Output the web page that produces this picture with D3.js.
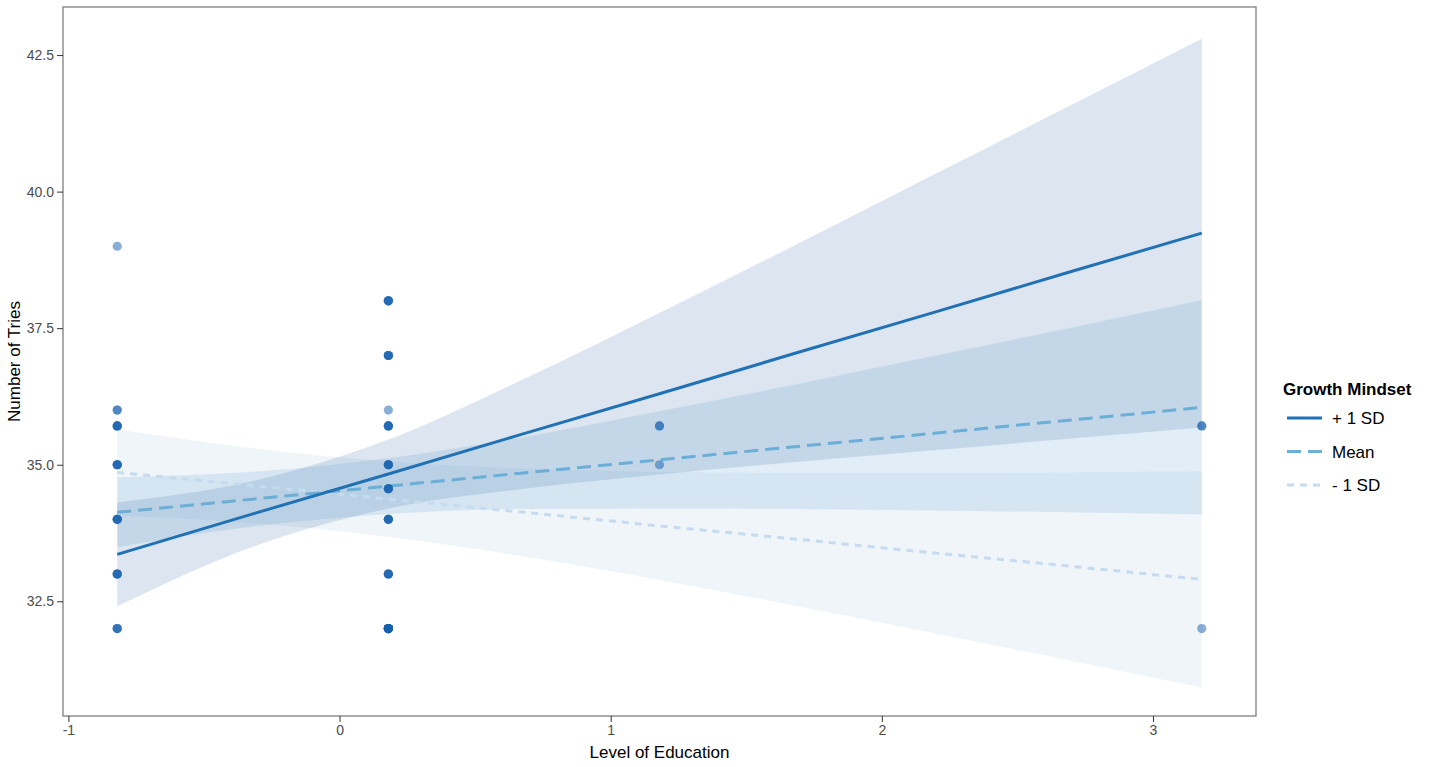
<!DOCTYPE html>
<html>
<head>
<meta charset="utf-8">
<script src="https://cdn.jsdelivr.net/npm/d3@7"></script>
<style>
  html, body { margin: 0; padding: 0; background: #fff; }
  svg { display: block; font-family: "Liberation Sans", Arial, sans-serif; }
</style>
</head>
<body>
<div id="chart"></div>
<script>
const gridX = [-0.82, -0.32, 0.18, 0.68, 1.18, 1.68, 2.18, 2.68, 3.18];

const groups = ['+ 1 SD', 'Mean', '- 1 SD'];

const fitPlus  = [33.36, 34.10, 34.83, 35.57, 36.30, 37.04, 37.77, 38.51, 39.24];
const lowPlus  = [32.41, 33.50, 34.20, 34.56, 34.82, 35.05, 35.26, 35.47, 35.68];
const highPlus = [34.31, 34.70, 35.46, 36.57, 37.78, 39.02, 40.28, 41.54, 42.80];

const fitMean  = [34.13, 34.37, 34.61, 34.85, 35.09, 35.33, 35.57, 35.81, 36.05];
const lowMean  = [33.49, 33.87, 34.10, 34.19, 34.20, 34.19, 34.16, 34.13, 34.09];
const highMean = [34.77, 34.87, 35.12, 35.51, 35.98, 36.47, 36.98, 37.49, 38.01];

const fitMinus  = [34.86, 34.62, 34.37, 34.13, 33.88, 33.64, 33.39, 33.15, 32.90];
const lowMinus  = [34.07, 33.93, 33.68, 33.32, 32.89, 32.42, 31.93, 31.43, 30.92];
const highMinus = [35.65, 35.30, 35.06, 34.93, 34.87, 34.85, 34.85, 34.86, 34.88];

// observations (education, tries); repeated rows overplot
const obsX = [
  -0.82, -0.82, -0.82, -0.82, -0.82, -0.82, -0.82, -0.82, -0.82, -0.82, -0.82, -0.82, -0.82, -0.82, -0.82, -0.82, -0.82, -0.82, -0.82, -0.82, -0.82, -0.82,
  0.18, 0.18, 0.18, 0.18, 0.18, 0.18, 0.18, 0.18, 0.18, 0.18, 0.18, 0.18, 0.18, 0.18, 0.18, 0.18, 0.18, 0.18, 0.18, 0.18, 0.18, 0.18, 0.18, 0.18, 0.18, 0.18, 0.18, 0.18, 0.18, 0.18, 0.18, 0.18, 0.18, 0.18, 0.18, 0.18, 0.18, 0.18, 0.18,
  1.18, 1.18, 1.18,
  3.18, 3.18, 3.18
];
const obsY = [
  39, 36, 36, 35.71, 35.71, 35.71, 35.71, 35, 35, 35, 35, 34, 34, 34, 34, 33, 33, 33, 33, 32, 32, 32,
  38, 38, 38, 38, 37, 37, 37, 37, 36, 35.71, 35.71, 35.71, 35.71, 35, 35, 35, 35, 34.56, 34.56, 34.56, 34.56,
  34, 34, 34, 34, 33, 33, 33, 33, 32, 32, 32, 32, 32, 32, 32, 32, 32, 32,
  35.71, 35.71, 35,
  35.71, 35.71, 32
];

const xTicks = [-1, 0, 1, 2, 3];
const yTicks = [32.5, 35.0, 37.5, 40.0, 42.5];

const width = 1430, height = 767;
const margin = {top: 7, right: 174, bottom: 51, left: 63};

const x = d3.scaleLinear()
  .domain([-1.02, 3.38])
  .range([margin.left, width - margin.right]);

const y = d3.scaleLinear()
  .domain([30.4, 43.38])
  .range([height - margin.bottom, margin.top]);

const colors = {'+ 1 SD': '#2171b5', 'Mean': '#6baed6', '- 1 SD': '#c6dbef'};
const fills  = {'+ 1 SD': '#507db4', 'Mean': '#6eaad7', '- 1 SD': '#afcde3'};
const dashes = {'+ 1 SD': null, 'Mean': '14,7', '- 1 SD': '7,6'};

const series = [
  {key: '- 1 SD', fit: fitMinus, low: lowMinus, high: highMinus},
  {key: 'Mean', fit: fitMean, low: lowMean, high: highMean},
  {key: '+ 1 SD', fit: fitPlus, low: lowPlus, high: highPlus},
];

const svg = d3.select('#chart')
  .append('svg')
  .attr('width', width)
  .attr('height', height);

const area = d3.area()
  .x((d, i) => x(gridX[i]))
  .y0(d => y(d[0]))
  .y1(d => y(d[1]))
  .curve(d3.curveMonotoneX);

const line = d3.line()
  .x((d, i) => x(gridX[i]))
  .y(d => y(d));

// Add bands.
svg.append('g')
  .selectAll('path')
  .data(series)
  .join('path')
  .attr('fill', d => fills[d.key])
  .attr('fill-opacity', 0.2)
  .attr('d', d => area(d.low.map((v, i) => [v, d.high[i]])));

// Add lines.
svg.append('g')
  .attr('fill', 'none')
  .attr('stroke-width', 3)
  .selectAll('path')
  .data(series)
  .join('path')
  .attr('stroke', d => colors[d.key])
  .attr('stroke-dasharray', d => dashes[d.key])
  .attr('d', d => line(d.fit));

// Add points.
svg.append('g')
  .attr('fill', '#1660ad')
  .attr('fill-opacity', 0.5)
  .selectAll('circle')
  .data(obsX.map((v, i) => [v, obsY[i]]))
  .join('circle')
  .attr('cx', d => x(d[0]))
  .attr('cy', d => y(d[1]))
  .attr('r', 4.6);

// Panel border.
svg.append('rect')
  .attr('x', margin.left)
  .attr('y', margin.top)
  .attr('width', width - margin.left - margin.right)
  .attr('height', height - margin.top - margin.bottom)
  .attr('fill', 'none')
  .attr('stroke', '#7f7f7f')
  .attr('stroke-width', 1.3);

// Axes.
svg.append('g')
  .attr('transform', `translate(0,${height - margin.bottom})`)
  .call(d3.axisBottom(x).tickValues(xTicks).tickFormat(d => String(d)).tickSize(6).tickPadding(3))
  .call(g => g.select('.domain').remove())
  .call(g => g.selectAll('line').attr('stroke', '#333'))
  .call(g => g.selectAll('text')
    .attr('fill', '#4d4d4d')
    .style('font-size', '14px')
    .style('font-family', '"Liberation Sans", Arial, sans-serif'));

svg.append('g')
  .attr('transform', `translate(${margin.left},0)`)
  .call(d3.axisLeft(y).tickValues(yTicks).tickFormat(d => d.toFixed(1)).tickSize(6).tickPadding(3))
  .call(g => g.select('.domain').remove())
  .call(g => g.selectAll('line').attr('stroke', '#333'))
  .call(g => g.selectAll('text')
    .attr('fill', '#4d4d4d')
    .style('font-size', '14px')
    .style('font-family', '"Liberation Sans", Arial, sans-serif'));

svg.append('text')
  .attr('x', (margin.left + width - margin.right) / 2)
  .attr('y', 758)
  .attr('text-anchor', 'middle')
  .style('font-size', '17px')
  .text('Level of Education');

svg.append('text')
  .attr('transform', `translate(20,${(margin.top + height - margin.bottom) / 2}) rotate(-90)`)
  .attr('text-anchor', 'middle')
  .style('font-size', '17px')
  .text('Number of Tries');

// Legend.
const legend = svg.append('g')
  .attr('transform', 'translate(1283,0)');

legend.append('text')
  .attr('x', 0)
  .attr('y', 395)
  .style('font-size', '17px')
  .style('font-weight', 'bold')
  .text('Growth Mindset');

const item = legend.selectAll('g.item')
  .data(groups)
  .join('g')
  .attr('class', 'item')
  .attr('transform', (d, i) => `translate(0,${418 + i * 33.5})`);

item.append('line')
  .attr('x1', 4)
  .attr('x2', 39)
  .attr('stroke', d => colors[d])
  .attr('stroke-width', 3)
  .attr('stroke-dasharray', d => dashes[d]);

item.append('text')
  .attr('x', 49)
  .attr('dy', '0.36em')
  .style('font-size', '17px')
  .text(d => d);
</script>
</body>
</html>
